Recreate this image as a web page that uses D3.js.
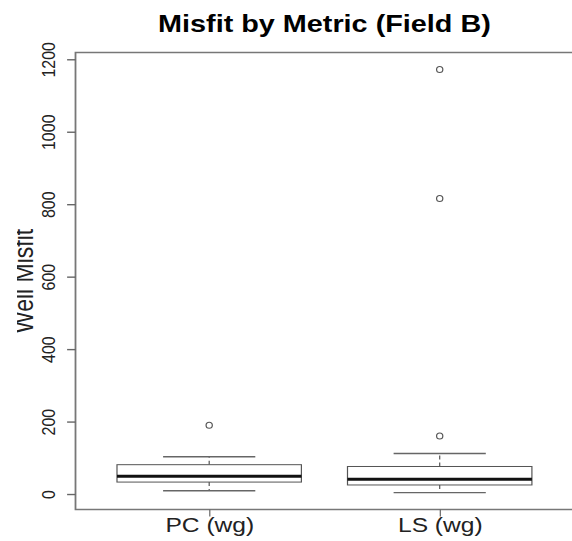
<!DOCTYPE html>
<html>
<head>
<meta charset="utf-8">
<script src="https://cdn.jsdelivr.net/npm/d3@7"></script>
<style>
  body { margin: 0; background: #fff; }
  text { font-family: "Liberation Sans", Arial, sans-serif; }
</style>
</head>
<body>
<script>
// box stats
let categories  = ["PC (wg)", "LS (wg)"];
let whiskerLow  = [9, 4];
let q1          = [33, 25];
let medians     = [49, 41];
let q3          = [81, 76];
let whiskerHigh = [103, 112];
let outliers    = [[190], [160, 816, 1172]];
let yTicks      = [0, 200, 400, 600, 800, 1000, 1200];

let W = 572, H = 541;
let sx = 1.2;            // the reference is stretched sideways
let w = W / sx;

let plotLeft = 75.5 / sx, plotRight = 573.4 / sx;
let plotTop = 52.5, plotBottom = 509.5;

let xScale = d3.scaleLinear()
  .domain([0.42, 2.58])
  .range([plotLeft, plotRight]);

let yScale = d3.scaleLinear()
  .domain([-42.7, 1218.7])
  .range([plotBottom, plotTop]);

let svg = d3.select("body")
  .append("svg")
  .attr("width", W)
  .attr("height", H)
  .attr("viewBox", "0 0 " + w + " " + H)
  .attr("preserveAspectRatio", "none");

let boxData = categories.map((c, i) => ({
  name: c, pos: i + 1,
  lo: whiskerLow[i], q1: q1[i], med: medians[i], q3: q3[i], hi: whiskerHigh[i],
  out: outliers[i]
}));

let g = svg.selectAll("g.box")
  .data(boxData)
  .enter()
  .append("g")
  .attr("class", "box");

// whiskers (dashed)
g.append("line")
  .attr("x1", d => xScale(d.pos)).attr("x2", d => xScale(d.pos))
  .attr("y1", d => yScale(d.q3)).attr("y2", d => yScale(d.hi))
  .attr("stroke", "#555").attr("stroke-dasharray", "4,3");
g.append("line")
  .attr("x1", d => xScale(d.pos)).attr("x2", d => xScale(d.pos))
  .attr("y1", d => yScale(d.q1)).attr("y2", d => yScale(d.lo))
  .attr("stroke", "#555").attr("stroke-dasharray", "4,3");

// staples
g.append("line")
  .attr("x1", d => xScale(d.pos - 0.2)).attr("x2", d => xScale(d.pos + 0.2))
  .attr("y1", d => yScale(d.hi)).attr("y2", d => yScale(d.hi))
  .attr("stroke", "#666").attr("stroke-width", 1.4);
g.append("line")
  .attr("x1", d => xScale(d.pos - 0.2)).attr("x2", d => xScale(d.pos + 0.2))
  .attr("y1", d => yScale(d.lo)).attr("y2", d => yScale(d.lo))
  .attr("stroke", "#666").attr("stroke-width", 1.4);

// box
g.append("rect")
  .attr("x", d => xScale(d.pos - 0.4))
  .attr("width", d => xScale(d.pos + 0.4) - xScale(d.pos - 0.4))
  .attr("y", d => yScale(d.q3))
  .attr("height", d => yScale(d.q1) - yScale(d.q3))
  .attr("fill", "#fff").attr("stroke", "#555").attr("stroke-width", 1);

// median
g.append("line")
  .attr("x1", d => xScale(d.pos - 0.4)).attr("x2", d => xScale(d.pos + 0.4))
  .attr("y1", d => yScale(d.med)).attr("y2", d => yScale(d.med))
  .attr("stroke", "#111").attr("stroke-width", 3);

// outliers
g.selectAll("ellipse")
  .data(d => d.out.map(v => ({ pos: d.pos, v: v })))
  .enter()
  .append("ellipse")
  .attr("cx", d => xScale(d.pos))
  .attr("cy", d => yScale(d.v))
  .attr("rx", 2.6).attr("ry", 3)
  .attr("fill", "none").attr("stroke", "#555").attr("stroke-width", 1);

// frame
svg.append("rect")
  .attr("x", plotLeft).attr("y", plotTop)
  .attr("width", plotRight - plotLeft).attr("height", plotBottom - plotTop)
  .attr("fill", "none").attr("stroke", "#777").attr("stroke-width", 1.5);

// y axis
let yAxis = d3.axisLeft(yScale).tickValues(yTicks).tickSize(7).tickFormat(d3.format("d"));
let ya = svg.append("g")
  .attr("transform", "translate(" + plotLeft + ",0)")
  .call(yAxis);
ya.select(".domain").remove();
ya.selectAll(".tick line").attr("stroke", "#666").attr("stroke-width", 1.4);
ya.selectAll(".tick text")
  .attr("transform", "rotate(-90)")
  .attr("x", 0).attr("y", -17).attr("dy", 0)
  .attr("text-anchor", "middle")
  .attr("font-size", 16)
  .attr("fill", "#222");

// x axis
let xAxis = d3.axisBottom(xScale).tickValues([1, 2]).tickSize(7)
  .tickFormat((d, i) => categories[i]);
let xa = svg.append("g")
  .attr("transform", "translate(0," + plotBottom + ")")
  .call(xAxis);
xa.select(".domain").remove();
xa.selectAll(".tick line").attr("stroke", "#666");
xa.selectAll(".tick text")
  .attr("y", 22.5).attr("dy", 0)
  .attr("font-size", 20.5)
  .attr("fill", "#222");

// y label, tops of the letters are cut in the reference
svg.append("clipPath").attr("id", "ylabClip")
  .append("rect").attr("x", 14.2).attr("y", 0).attr("width", 60).attr("height", H);
svg.append("g")
  .attr("clip-path", "url(#ylabClip)")
  .append("text")
  .attr("transform", "translate(27.5," + ((plotTop + plotBottom) / 2) + ") rotate(-90)")
  .attr("text-anchor", "middle")
  .attr("font-size", 23)
  .attr("fill", "#222")
  .text("Well Misfit");

// title
svg.append("text")
  .attr("x", (plotLeft + plotRight) / 2).attr("y", 32)
  .attr("text-anchor", "middle")
  .attr("font-size", 24)
  .attr("font-weight", "bold")
  .text("Misfit by Metric (Field B)");
</script>
</body>
</html>
